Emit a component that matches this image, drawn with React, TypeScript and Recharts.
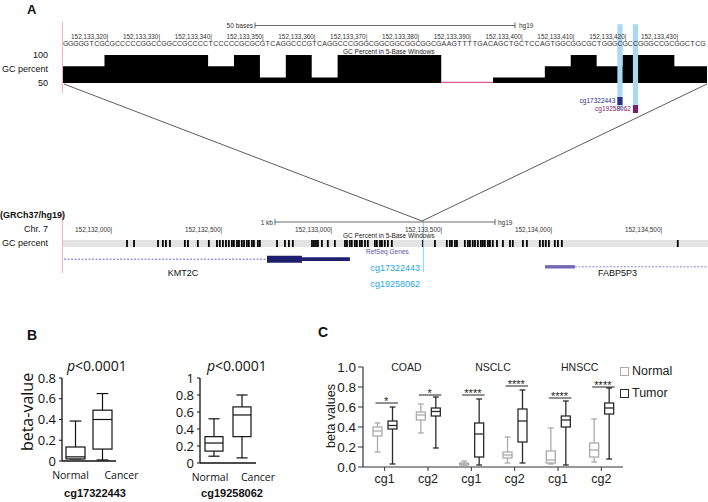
import React from 'react';
import { ComposedChart, Area, Line, Bar, XAxis, YAxis, ReferenceArea, ReferenceLine, Legend } from 'recharts';

const FONT = '"Liberation Sans", Arial, Helvetica, sans-serif';
const FONT_B = '"Open Sans", "Liberation Sans", sans-serif';

// ---- A, zoomed view: chr7:152,133,311-435 (offsets from 152,133,000)
const seqStart = 312;
const sequence =
  'GGGGGTCGCG' + 'CCCCCGGCCG' + 'GCCGCCCCTC' + 'CCCCGCGCGT' + 'CAGGCCCGTC' + 'AGGCCCGGGC' +
  'GGCGGCGGCG' + 'GCGAAGTTTT' + 'GACAGCTGCT' + 'CCAGTGGCGG' + 'CGCTGGGCGC' + 'CGGGCCGCGG' + 'CTCG';
const posLabels = [320, 330, 340, 350, 360, 370, 380, 390, 400, 410, 420, 430];
const gcWindowStart = [310, 315, 320, 325, 330, 335, 340, 345, 350, 355, 360, 365, 370, 375, 380, 385, 390, 395, 400, 405, 410, 415, 420, 425, 430, 435];
const gcValue = [80, 80, 100, 100, 100, 100, 80, 100, 60, 100, 60, 100, 100, 100, 100, 20, 40, 60, 60, 80, 100, 80, 100, 100, 80, 80];
const probeBase = [419, 422];
const probeNames = ['cg17322443', 'cg19258062'];
const probeColors = ['#2e2f86', '#7a1f6a'];

// ---- A, 3 kb view
const trackOrigin = 152132000;
const trackTicks = [152132000, 152132500, 152133000, 152133500, 152134000, 152134500];
const gcHighOffsets = [
  73, 105, 214, 236, 250, 268, 336, 350, 395, 445, 482, 495, 509, 523, 536, 550, 559, 573, 582, 595, 605, 618, 627,
  641, 650, 668, 677, 755, 791, 809, 827, 914, 923, 932, 941, 959, 986, 1018, 1064, 1073, 1086, 1095, 1109, 1118,
  1132, 1141, 1155, 1168, 1200, 1209, 1223, 1232, 1245, 1259, 1277, 1418, 1473, 1527, 1541, 1550, 1564, 1573, 1609,
  1623, 1632, 1645, 1655, 1668, 1682, 1691, 1700, 1714, 1723, 1736, 1755, 1782, 1814, 1827, 1873, 1891, 1950, 1964,
  1977, 1991, 2018, 2032, 2050, 2577,
];
const geneIntronStart = [152131500, 152134109];
const geneIntronEnd = [152132709, 152135000];
const geneColors = ['#1f1f70', '#7468b8'];
const blockGene = [0, 0, 1];
const blockStart = [152132709, 152132868, 152133973];
const blockEnd = [152132868, 152133086, 152134109];
const blockThick = [true, false, false];
const probeBp = 152133420;

// ---- B
const bCats = ['Normal', 'Cancer'];
const bLeftTicks = [0, 0.2, 0.4, 0.6, 0.8];
const bRightTicks = [0, 0.2, 0.4, 0.6, 0.8, 1];
const bLeftStats = [
  [0.02, 0.02, 0.04, 0.135, 0.385],
  [0.01, 0.115, 0.4, 0.49, 0.65],
];
const bRightStats = [
  [0.08, 0.14, 0.235, 0.31, 0.52],
  [0.06, 0.31, 0.565, 0.66, 0.8],
];

// ---- C
const cGroups = ['COAD', 'NSCLC', 'HNSCC'];
const cProbes = ['cg1', 'cg2', 'cg1', 'cg2', 'cg1', 'cg2'];
const cTicks = [0, 0.2, 0.4, 0.6, 0.8, 1];
const cNormal = [
  [0.15, 0.31, 0.36, 0.4, 0.44],
  [0.34, 0.47, 0.52, 0.55, 0.63],
  [0.02, 0.02, 0.03, 0.04, 0.06],
  [0.04, 0.09, 0.12, 0.15, 0.3],
  [0.03, 0.04, 0.07, 0.16, 0.39],
  [0.05, 0.1, 0.17, 0.24, 0.48],
];
const cTumor = [
  [0.03, 0.38, 0.415, 0.46, 0.6],
  [0.19, 0.51, 0.555, 0.59, 0.7],
  [0.02, 0.1, 0.33, 0.44, 0.68],
  [0.04, 0.25, 0.46, 0.58, 0.77],
  [0.02, 0.4, 0.47, 0.51, 0.66],
  [0.08, 0.53, 0.59, 0.64, 0.79],
];
const cSigY = [0.64, 0.72, 0.72, 0.81, 0.69, 0.8];
const cSigLabel = ['*', '*', '****', '****', '****', '****'];

const zoomData: any[] = gcWindowStart.map((s, i) => ({
  pos: s - 0.5,
  gc: gcValue[i],
  low: gcValue[i] < 50 || (i > 0 && gcValue[i - 1] < 50) ? 50 : null,
}));
zoomData.push({ pos: gcWindowStart[gcWindowStart.length - 1] + 4.5, gc: gcValue[gcValue.length - 1], low: null });
const seqPositions = Array.from(sequence, (_, i) => seqStart + i);

const trackData = gcHighOffsets.map((o) => ({ pos: trackOrigin + o }));

const bLeftData = bCats.map((c, i) => ({ cat: c, s: bLeftStats[i] }));
const bRightData = bCats.map((c, i) => ({ cat: c, s: bRightStats[i] }));
const cData = cProbes.map((p, i) => ({
  id: `${cGroups[Math.floor(i / 2)]}-${p}`,
  probe: p,
  normal: cNormal[i],
  tumor: cTumor[i],
  sig: cSigY[i],
  sigLabel: cSigLabel[i],
}));

const NORMAL_C = '#ababab';
const TUMOR_C = '#2b2b2b';

function BoxShape(props: any) {
  const { x, y, width, height, payload, fill, statsKey, capRatio, sw, sigGap } = props;
  const [mn, q1, md, q3, mx] = payload[statsKey];
  const top = Math.min(y, y + height);
  const h = Math.abs(height);
  const k = mx === mn ? 0 : h / (mx - mn);
  const py = (v: number) => top + (mx - v) * k;
  const cx = x + width / 2;
  const cap = (width * capRatio) / 2;
  return (
    <g stroke={fill} strokeWidth={sw} fill="none">
      <line x1={cx} x2={cx} y1={py(mx)} y2={py(q3)} />
      <line x1={cx} x2={cx} y1={py(q1)} y2={py(mn)} />
      <line x1={cx - cap} x2={cx + cap} y1={py(mx)} y2={py(mx)} />
      <line x1={cx - cap} x2={cx + cap} y1={py(mn)} y2={py(mn)} />
      <rect x={x} y={py(q3)} width={width} height={Math.max(py(q1) - py(q3), 0.5)} fill="#fff" />
      <line x1={x} x2={x + width} y1={py(md)} y2={py(md)} />
      {sigGap !== undefined && (
        <g>
          <line x1={x - sigGap - width / 2 - 2} x2={x + width + 1} y1={py(payload.sig)} y2={py(payload.sig)} stroke="#222" strokeWidth={1} />
          <text x={x - (sigGap + width / 2) / 2 + width / 2 - 1} y={py(payload.sig) + 2} textAnchor="middle" fontSize={11} fill="#222" stroke="none" fontFamily={FONT}>
            {payload.sigLabel}
          </text>
        </g>
      )}
    </g>
  );
}

function SeqTick(props: any) {
  const { x, payload } = props;
  const pos = payload.value as number;
  return (
    <g fontFamily={FONT} fill="#333">
      <text x={x} y={25.5} fontSize={7} textAnchor="middle">{sequence[pos - seqStart]}</text>
      {posLabels.includes(pos) && (
        <text x={x + 1.2} y={18.5} fontSize={6.4} textAnchor="end">{`${(152133000 + pos).toLocaleString('en-US')}|`}</text>
      )}
    </g>
  );
}

function TrackTick(props: any) {
  const { x, payload } = props;
  return (
    <text x={x + 1.2} y={16.5} fontSize={6.4} textAnchor="end" fill="#333" fontFamily={FONT}>
      {`${(payload.value as number).toLocaleString('en-US')}|`}
    </text>
  );
}

function NumTick(props: any) {
  const { x, y, payload, fontSize, fill, fontFamily, digits } = props;
  const v = payload.value as number;
  return (
    <text x={x} y={y} dy="0.35em" textAnchor="end" fontSize={fontSize} fill={fill} fontFamily={fontFamily}>
      {digits ? v.toFixed(digits) : String(v)}
    </text>
  );
}

function T(props: any) {
  const { x, y, size, anchor = 'start', bold, italic, color = '#111', font = FONT, rotate, children } = props;
  const tx = anchor === 'end' ? '-100%' : anchor === 'middle' ? '-50%' : '0';
  return (
    <div
      style={{
        position: 'absolute', left: x, top: y,
        transform: rotate ? `translate(-50%, -50%) rotate(${rotate}deg)` : `translate(${tx}, -50%)`,
        fontSize: size, fontWeight: bold ? 700 : 400, fontStyle: italic ? 'italic' : 'normal', color, fontFamily: font,
        whiteSpace: 'nowrap', lineHeight: 1,
      }}
    >
      {children}
    </div>
  );
}

// y ticks are drawn as label-only reference lines so every one of them is kept
function BPlot(props: any) {
  const { data, left, width, yWidth, domain, ticks, barSize, labelShift, marginRight, xHeight } = props;
  return (
    <div style={{ position: 'absolute', left, top: 340 }}>
      <ComposedChart width={width} height={145} data={data} margin={{ top: 38, right: marginRight, bottom: 0, left: 0 }}>
        <XAxis
          dataKey="cat"
          height={xHeight}
          axisLine={{ stroke: '#111', strokeWidth: 1.3 }}
          tickLine={false}
          interval={0}
          tick={(p: any) => (
            <text x={p.x + labelShift[p.index]} y={p.y + 10} textAnchor="middle" fontSize={10.5} fill="#111" fontFamily={FONT_B}>
              {p.payload.value}
            </text>
          )}
        />
        <YAxis
          type="number"
          domain={domain}
          ticks={ticks}
          tickCount={ticks.length}
          interval={0}
          width={yWidth}
          axisLine={{ stroke: '#111', strokeWidth: 1.3 }}
          tickLine={false}
          tick={false}
        />
        <Bar
          dataKey={(d: any) => [d.s[0], d.s[4]]}
          barSize={barSize}
          fill="#111"
          isAnimationActive={false}
          shape={(p: any) => <BoxShape {...p} statsKey="s" capRatio={0.62} sw={1.2} />}
        />
        {ticks.map((t: number) => (
          <ReferenceLine
            key={t}
            y={t}
            stroke="none"
            ifOverflow="visible"
            label={(lp: any) => {
              const vb = lp.viewBox || {};
              return (
                <g>
                  <line x1={vb.x - 3} x2={vb.x} y1={vb.y} y2={vb.y} stroke="#111" strokeWidth={1} />
                  <text x={vb.x - 6} y={vb.y} dy="0.35em" textAnchor="end" fontSize={13} fill="#111" fontFamily={FONT_B}>
                    {String(t)}
                  </text>
                </g>
              );
            }}
          />
        ))}
      </ComposedChart>
    </div>
  );
}

const C_BAND = 260 / 6;

export default function App() {
  return (
    <div style={{ position: 'absolute', left: 0, top: 0, width: 708, height: 502, background: '#fff', fontFamily: FONT, overflow: 'hidden' }}>
      {/* A: zoomed GC track */}
      <div style={{ position: 'absolute', left: 0, top: 20 }}>
        <ComposedChart width={708} height={93} data={zoomData} margin={{ top: 0, right: 1, bottom: 30, left: 0 }}>
          <XAxis
            type="number"
            dataKey="pos"
            domain={[311.3, 435.8]}
            allowDataOverflow
            orientation="top"
            height={35}
            ticks={seqPositions}
            interval={0}
            tickLine={false}
            axisLine={false}
            tick={(p: any) => <SeqTick {...p} />}
          />
          <YAxis
            type="number"
            domain={[50, 100]}
            ticks={[50, 100]}
            interval={0}
            allowDataOverflow
            width={62}
            tickLine={false}
            axisLine={false}
            tickMargin={8}
            tick={{ fontSize: 9, fill: '#111' }}
            label={{ value: 'GC percent', position: 'insideRight', offset: 14, fontSize: 9, fill: '#111' }}
          />
          <Area type="stepAfter" dataKey="gc" fill="#000" fillOpacity={1} stroke="none" isAnimationActive={false} />
          <Line type="linear" dataKey="low" stroke="#e2559f" strokeWidth={2.5} dot={false} isAnimationActive={false} />
          {probeBase.map((b) => (
            <ReferenceArea key={`h${b}`} x1={b - 0.5} x2={b + 0.5} y1={2} y2={155} fill="#aad9f2" fillOpacity={1} stroke="none" ifOverflow="visible" />
          ))}
          {probeBase.map((b, i) => (
            <ReferenceArea
              key={`m${b}`}
              x1={b - 0.5}
              x2={b + 0.5}
              y1={25 - 14.3 * (i + 1)}
              y2={25 - 14.3 * i}
              fill={probeColors[i]}
              fillOpacity={1}
              stroke="none"
              ifOverflow="visible"
              label={{ value: probeNames[i], position: 'left', offset: 2, fontSize: 6.5, fill: probeColors[i] }}
            />
          ))}
        </ComposedChart>
      </div>

      {/* A: 3 kb track */}
      <div style={{ position: 'absolute', left: 0, top: 215 }}>
        <ComposedChart width={708} height={58} data={trackData} margin={{ top: 0, right: 0, bottom: 1, left: 62 }}>
          <XAxis
            type="number"
            dataKey="pos"
            domain={[152131777, 152134714]}
            allowDataOverflow
            orientation="top"
            height={25}
            ticks={trackTicks}
            interval={0}
            tickLine={false}
            axisLine={false}
            tick={(p: any) => <TrackTick {...p} />}
          />
          <YAxis hide type="number" domain={[0, 32]} reversed allowDataOverflow />
          <ReferenceArea y1={0} y2={7} fill="#e3e3e3" fillOpacity={1} stroke="none" ifOverflow="hidden" />
          <Bar dataKey={() => [0, 7]} barSize={2} fill="#000" isAnimationActive={false} />
          {geneIntronStart.map((s, i) => (
            <ReferenceLine
              key={`tx${i}`}
              segment={[{ x: s, y: i === 0 ? 19.2 : 26.8 }, { x: geneIntronEnd[i], y: i === 0 ? 19.2 : 26.8 }]}
              stroke={i === 0 ? '#6a6ad0' : '#8a7fd0'}
              strokeWidth={1}
              strokeDasharray="2 1.5"
              ifOverflow="hidden"
            />
          ))}
          {blockStart.map((s, i) => {
            const row = blockGene[i] === 0 ? 19.2 : 26.8;
            const half = blockThick[i] ? 3.5 : blockGene[i] === 0 ? 1.9 : 1.7;
            return (
              <ReferenceArea key={`b${i}`} x1={s} x2={blockEnd[i]} y1={row - half} y2={row + half} fill={geneColors[blockGene[i]]} fillOpacity={1} stroke="none" ifOverflow="visible" />
            );
          })}
          <ReferenceLine segment={[{ x: probeBp, y: -19 }, { x: probeBp, y: 32 }]} stroke="#8fd3f2" strokeWidth={1} ifOverflow="visible" />
        </ComposedChart>
      </div>

      {/* B */}
      <BPlot data={bLeftData} left={0} width={144} yWidth={62} domain={[0, 0.8]} ticks={bLeftTicks} barSize={19} labelShift={[-5, 19]} marginRight={28} xHeight={24} />
      <BPlot data={bRightData} left={140} width={146} yWidth={60} domain={[0, 1]} ticks={bRightTicks} barSize={18} labelShift={[-4, 16]} marginRight={30} xHeight={22} />

      {/* C */}
      <div style={{ position: 'absolute', left: 300, top: 330 }}>
        <ComposedChart width={408} height={162} data={cData} margin={{ top: 37, right: 85, bottom: 0, left: 0 }} barGap={6}>
          <XAxis
            dataKey="id"
            height={25}
            interval={0}
            tickSize={4}
            axisLine={{ stroke: '#333', strokeWidth: 1.2 }}
            tickLine={{ stroke: '#333' }}
            tick={(p: any) => (
              <g fontFamily={FONT} fill="#222">
                <text x={p.x} y={p.y + 10} textAnchor="middle" fontSize={12.5}>{cProbes[p.index]}</text>
                {p.index % 2 === 0 && (
                  <text x={p.x + C_BAND / 2} y={41} textAnchor="middle" fontSize={10.5}>{cGroups[p.index / 2]}</text>
                )}
              </g>
            )}
          />
          <YAxis
            type="number"
            domain={[0, 1]}
            ticks={cTicks}
            interval={0}
            minTickGap={0}
            width={63}
            tickSize={5}
            tickMargin={2}
            axisLine={{ stroke: '#333', strokeWidth: 1.2 }}
            tickLine={{ stroke: '#333' }}
            tick={(p: any) => <NumTick {...p} fontSize={13.5} fill="#222" fontFamily={FONT} digits={1} />}
          />
          <Bar
            name="Normal"
            dataKey={(d: any) => [d.normal[0], d.normal[4]]}
            barSize={9}
            fill={NORMAL_C}
            isAnimationActive={false}
            shape={(p: any) => <BoxShape {...p} statsKey="normal" capRatio={0.65} sw={1.3} />}
          />
          <Bar
            name="Tumor"
            dataKey={(d: any) => [d.tumor[0], d.tumor[4]]}
            barSize={9}
            fill={TUMOR_C}
            isAnimationActive={false}
            shape={(p: any) => <BoxShape {...p} statsKey="tumor" capRatio={0.65} sw={1.3} sigGap={6} />}
          />
          <Legend
            layout="horizontal"
            verticalAlign="middle"
            align="center"
            wrapperStyle={{ position: 'absolute', left: 320, top: 30, width: 90 }}
            content={(p: any) => (
              <div style={{ fontFamily: FONT }}>
                {(p.payload || []).map((e: any) => (
                  <div key={e.value} style={{ display: 'flex', alignItems: 'center', height: 22 }}>
                    <span style={{ width: 7, height: 7, border: `1.5px solid ${e.color}`, marginRight: 3, display: 'inline-block' }} />
                    <span style={{ fontSize: 12.5, color: '#222' }}>{e.value}</span>
                  </div>
                ))}
              </div>
            )}
          />
        </ComposedChart>
      </div>

      {/* annotations */}
      <svg width={708} height={502} style={{ position: 'absolute', left: 0, top: 0, pointerEvents: 'none' }} fontFamily={FONT}>
        <line x1={62.5} y1={22} x2={62.5} y2={93} stroke="#f5b3c0" />
        <line x1={62.5} y1={213} x2={62.5} y2={273} stroke="#f5b3c0" />
        <line x1={64} y1={84} x2={422} y2={221} stroke="#333" strokeWidth={0.8} />
        <line x1={707} y1={84} x2={422} y2={221} stroke="#333" strokeWidth={0.8} />
        <text x={253} y={28} fontSize={6.5} textAnchor="end" fill="#333">50 bases</text>
        <line x1={255} x2={515} y1={25.5} y2={25.5} stroke="#444" strokeWidth={0.8} />
        <line x1={255} x2={255} y1={22.5} y2={28.5} stroke="#444" strokeWidth={0.8} />
        <line x1={515} x2={515} y1={22.5} y2={28.5} stroke="#444" strokeWidth={0.8} />
        <text x={519} y={28} fontSize={6.5} fill="#333">hg19</text>
        <text x={273} y={224.5} fontSize={6.5} textAnchor="end" fill="#333">1 kb</text>
        <line x1={275} x2={495} y1={222} y2={222} stroke="#444" strokeWidth={0.8} />
        <line x1={275} x2={275} y1={219} y2={225} stroke="#444" strokeWidth={0.8} />
        <line x1={495} x2={495} y1={219} y2={225} stroke="#444" strokeWidth={0.8} />
        <text x={498} y={224.5} fontSize={6.5} fill="#333">hg19</text>
      </svg>

      {/* text labels */}
      <T x={27} y={9} size={13} bold>A</T>
      <T x={343} y={52} size={6.5} color="#222">GC Percent in 5-Base Windows</T>
      <T x={0} y={215} size={9} bold>(GRCh37/hg19)</T>
      <T x={48} y={229} size={9} anchor="end">Chr. 7</T>
      <T x={48} y={243} size={9} anchor="end">GC percent</T>
      <T x={343} y={236} size={6.5} color="#222">GC Percent in 5-Base Windows</T>
      <T x={366} y={252} size={6.5} color="#5b4fa8">RefSeq Genes</T>
      <T x={183} y={273} size={9} anchor="middle">KMT2C</T>
      <T x={598} y={273} size={9}>FABP5P3</T>
      <T x={420} y={268} size={9} anchor="end" color="#29a8e0">{probeNames[0]}</T>
      <T x={420} y={284} size={9} anchor="end" color="#29a8e0">{probeNames[1]}</T>

      <T x={27} y={335} size={14} bold>B</T>
      <T x={27} y={412} size={16} font={FONT_B} rotate={-90}>beta-value</T>
      <T x={67} y={366} size={14} font={FONT_B}><i>p</i>&lt;0.0001</T>
      <T x={207} y={366} size={14} font={FONT_B}><i>p</i>&lt;0.0001</T>
      <T x={95} y={493} size={11} bold anchor="middle">{probeNames[0]}</T>
      <T x={232} y={493} size={11} bold anchor="middle">{probeNames[1]}</T>

      <T x={318} y={332} size={14} bold>C</T>
      <T x={331} y={416} size={12.5} rotate={-90} color="#222">beta values</T>
    </div>
  );
}
